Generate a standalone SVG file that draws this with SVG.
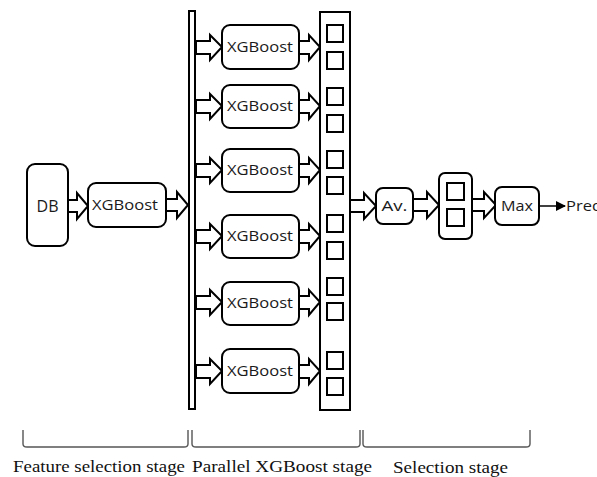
<svg xmlns="http://www.w3.org/2000/svg" width="597" height="477" viewBox="0 0 597 477">
<style>
.box{fill:#fff;stroke:#000;stroke-width:2}
.sq{fill:#fff;stroke:#000;stroke-width:2}
.ha{fill:#fff;stroke:#000;stroke-width:2;stroke-linejoin:miter}
.t{font-family:"Open Sans","DejaVu Sans",sans-serif;font-size:14px;fill:#1a1a1a}
.lbl{font-family:"Liberation Serif","Times New Roman",serif;font-size:17px;fill:#111}
.br{fill:none;stroke:#555;stroke-width:1.4}
</style>
<defs>
<marker id="tri" markerWidth="10" markerHeight="10" refX="9" refY="5" orient="auto" markerUnits="userSpaceOnUse">
<path d="M0,0 L10,5 L0,10 Z" fill="#000"/>
</marker>
</defs>
<g id="connectors">
<polygon class="ha" points="68,200 77,200 77,193 88,206 77,219 77,212 68,212"/>
<polygon class="ha" points="166,199 177,199 177,192 188,205 177,218 177,211 166,211"/>
<polygon class="ha" points="196,41 210,41 210,35 222,47 210,60 210,54 196,54"/>
<polygon class="ha" points="196,100 210,100 210,94 222,106 210,119 210,113 196,113"/>
<polygon class="ha" points="196,164 210,164 210,158 222,170 210,183 210,177 196,177"/>
<polygon class="ha" points="196,230 210,230 210,224 222,236 210,249 210,243 196,243"/>
<polygon class="ha" points="196,296 210,296 210,290 222,302 210,315 210,309 196,309"/>
<polygon class="ha" points="196,365 210,365 210,359 222,371 210,384 210,378 196,378"/>
<polygon class="ha" points="299,41 309,41 309,35 320,47 309,60 309,54 299,54"/>
<polygon class="ha" points="299,100 309,100 309,94 320,106 309,119 309,113 299,113"/>
<polygon class="ha" points="299,164 309,164 309,158 320,170 309,183 309,177 299,177"/>
<polygon class="ha" points="299,230 309,230 309,224 320,236 309,249 309,243 299,243"/>
<polygon class="ha" points="299,296 309,296 309,290 320,302 309,315 309,309 299,309"/>
<polygon class="ha" points="299,365 309,365 309,359 320,371 309,384 309,378 299,378"/>
<polygon class="ha" points="350,200 364,200 364,193 376,206 364,219 364,212 350,212"/>
<polygon class="ha" points="413,199 427,199 427,192 439,205 427,218 427,211 413,211"/>
<polygon class="ha" points="472,199 484,199 484,192 496,205 484,218 484,211 472,211"/>
<line x1="539" y1="206" x2="565" y2="206" stroke="#000" stroke-width="1.5" marker-end="url(#tri)"/>
</g>
<g id="db"><rect class="box" x="27" y="164" width="41" height="82" rx="8"/><text class="t" x="47.5" y="212" text-anchor="middle" style="font-size:16px">DB</text></g>
<g id="xgb0"><rect class="box" x="88" y="183" width="78" height="44" rx="8"/><text class="t" x="92" y="210" textLength="66" lengthAdjust="spacingAndGlyphs">XGBoost</text></g>
<g id="bar"><rect x="189" y="11" width="6" height="398" fill="#fff" stroke="#000" stroke-width="2"/></g>
<g id="xgb1"><rect class="box" x="222" y="25" width="77" height="44" rx="8"/><text class="t" x="227" y="52" textLength="66" lengthAdjust="spacingAndGlyphs">XGBoost</text></g>
<g id="xgb2"><rect class="box" x="222" y="85" width="77" height="43" rx="8"/><text class="t" x="227" y="111" textLength="66" lengthAdjust="spacingAndGlyphs">XGBoost</text></g>
<g id="xgb3"><rect class="box" x="222" y="149" width="77" height="43" rx="8"/><text class="t" x="227" y="175" textLength="66" lengthAdjust="spacingAndGlyphs">XGBoost</text></g>
<g id="xgb4"><rect class="box" x="222" y="215" width="77" height="43" rx="8"/><text class="t" x="227" y="241" textLength="66" lengthAdjust="spacingAndGlyphs">XGBoost</text></g>
<g id="xgb5"><rect class="box" x="222" y="282" width="77" height="43" rx="8"/><text class="t" x="227" y="308" textLength="66" lengthAdjust="spacingAndGlyphs">XGBoost</text></g>
<g id="xgb6"><rect class="box" x="222" y="349" width="77" height="44" rx="8"/><text class="t" x="227" y="376" textLength="66" lengthAdjust="spacingAndGlyphs">XGBoost</text></g>
<g id="collector">
<rect x="320" y="12" width="30" height="398" fill="#fff" stroke="#000" stroke-width="2"/>
<rect class="sq" x="327" y="25" width="16" height="17"/><rect class="sq" x="327" y="52" width="16" height="17"/>
<rect class="sq" x="327" y="88" width="16" height="17"/><rect class="sq" x="327" y="115" width="16" height="17"/>
<rect class="sq" x="327" y="151" width="16" height="17"/><rect class="sq" x="327" y="177" width="16" height="17"/>
<rect class="sq" x="327" y="215" width="16" height="17"/><rect class="sq" x="327" y="242" width="16" height="17"/>
<rect class="sq" x="327" y="278" width="16" height="17"/><rect class="sq" x="327" y="303" width="16" height="17"/>
<rect class="sq" x="327" y="352" width="16" height="17"/><rect class="sq" x="327" y="378" width="16" height="17"/>
</g>
<g id="av"><rect class="box" x="376" y="188" width="37" height="36" rx="7"/><text class="t" x="394.5" y="211" text-anchor="middle" textLength="26" lengthAdjust="spacingAndGlyphs">Av.</text></g>
<g id="stack"><rect class="box" x="439" y="173" width="33" height="66" rx="6"/>
<rect class="sq" x="447" y="183" width="17" height="17"/><rect class="sq" x="447" y="209" width="17" height="17"/></g>
<g id="max"><rect class="box" x="495" y="187" width="44" height="38" rx="7"/><text class="t" x="517" y="211" text-anchor="middle" textLength="32" lengthAdjust="spacingAndGlyphs">Max</text></g>
<g id="pred"><text class="t" x="566" y="211" textLength="36" lengthAdjust="spacingAndGlyphs">Pred</text></g>
<g id="stages">
<path class="br" d="M23,430 L23,444 Q23,447 27,447 L184,447 Q188,447 188,444 L188,430"/>
<path class="br" d="M192,430 L192,444 Q192,447 196,447 L356,447 Q360,447 360,444 L360,430"/>
<path class="br" d="M363,430 L363,444 Q363,447 367,447 L526,447 Q530,447 530,444 L530,430"/>
<text class="lbl" x="13" y="472" textLength="172" lengthAdjust="spacingAndGlyphs">Feature selection stage</text>
<text class="lbl" x="192" y="472" textLength="180" lengthAdjust="spacingAndGlyphs">Parallel XGBoost stage</text>
<text class="lbl" x="393" y="473" textLength="115" lengthAdjust="spacingAndGlyphs">Selection stage</text>
</g>
</svg>
